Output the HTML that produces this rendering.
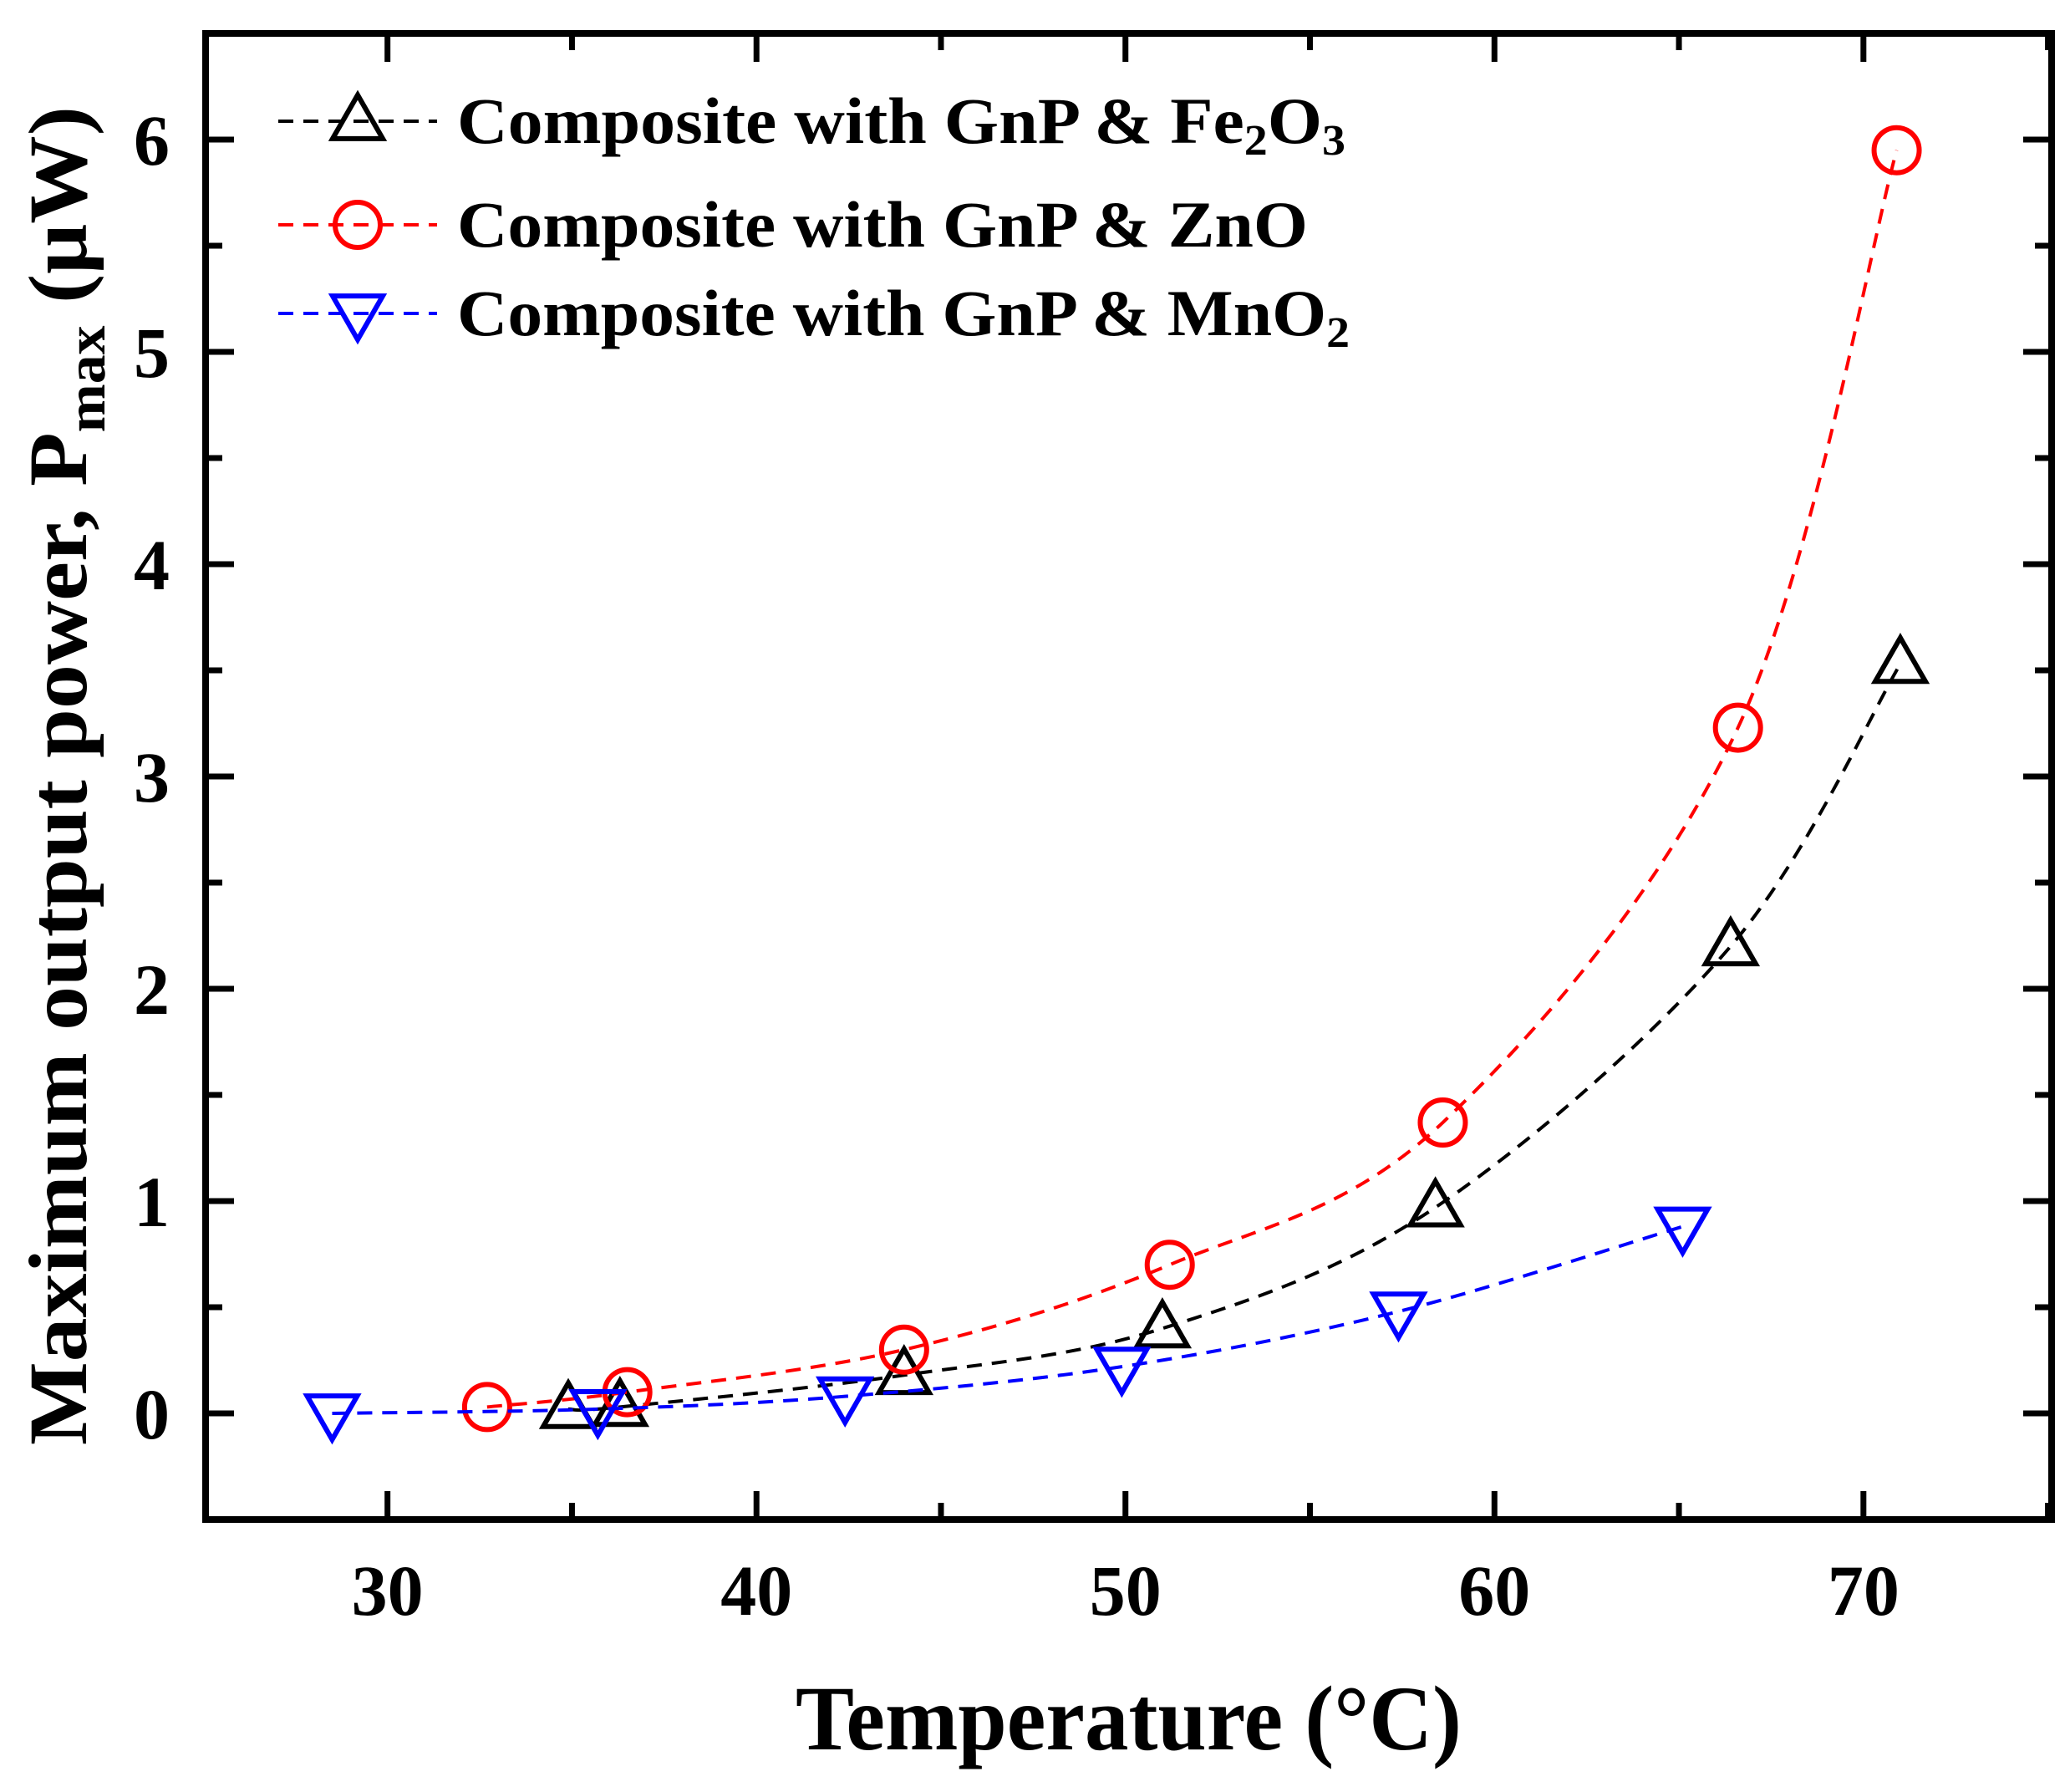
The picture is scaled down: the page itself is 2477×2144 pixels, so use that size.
<!DOCTYPE html>
<html><head><meta charset="utf-8"><style>body{margin:0;background:#fff}svg{display:block}</style></head>
<body>
<svg id="chart" xmlns="http://www.w3.org/2000/svg" width="2477" height="2144" viewBox="0 0 2477 2144" font-family="'Liberation Serif', serif" font-weight="bold">
<rect width="2477" height="2144" fill="#fff"/>
<g id="marks"></g>
<g id="axes"></g>
<text x="952" y="2093" font-size="110" textLength="797" lengthAdjust="spacingAndGlyphs">Temperature (°C)</text>
<text transform="translate(103,1729) rotate(-90)" font-size="100" textLength="1602" lengthAdjust="spacingAndGlyphs">Maximum output power, P<tspan font-size="66" dy="22">max</tspan><tspan dy="-22"> (μW)</tspan></text>
<g>
<text x="547" y="171" font-size="78" textLength="1063" lengthAdjust="spacingAndGlyphs">Composite with GnP &amp; Fe<tspan font-size="52" dy="14">2</tspan><tspan dy="-14">O</tspan><tspan font-size="52" dy="14">3</tspan></text>
<text x="547" y="295" font-size="78" textLength="1018" lengthAdjust="spacingAndGlyphs">Composite with GnP &amp; ZnO</text>
<text x="547" y="401" font-size="78" textLength="1068" lengthAdjust="spacingAndGlyphs">Composite with GnP &amp; MnO<tspan font-size="52" dy="14">2</tspan></text>
</g>
</svg>
<script>
const fe2o3X = [34.9, 36.3, 44.0, 51.0, 58.4, 66.4, 71.0];
const fe2o3Y = [0.02, 0.03, 0.18, 0.40, 0.97, 2.20, 3.53];
const znoX = [32.7, 36.5, 44.0, 51.2, 58.6, 66.6, 70.9];
const znoY = [0.03, 0.10, 0.30, 0.70, 1.37, 3.23, 5.95];
const mno2X = [28.5, 35.7, 42.4, 49.9, 57.4, 65.1];
const mno2Y = [0.00, 0.02, 0.08, 0.22, 0.48, 0.88];
const xTicks = [30, 40, 50, 60, 70];
const yTicks = [0, 1, 2, 3, 4, 5, 6];

const NS = 'http://www.w3.org/2000/svg';
const L = 246, R = 2455, T = 40, B = 1818;
const xMin = 25.07, xMax = 75.1, yMin = -0.5, yMax = 6.5;
const xs = v => L + (v - xMin) / (xMax - xMin) * (R - L);
const ys = v => B - (v - yMin) / (yMax - yMin) * (B - T);
function mk(tag, attrs, parent) { const e = document.createElementNS(NS, tag); for (const k in attrs) e.setAttribute(k, attrs[k]); parent.appendChild(e); return e; }
const marks = document.getElementById('marks');
const axes = document.getElementById('axes');

function tri(cx, cy, s, up) {
  const h = s * 0.87;
  return up ? `${cx},${cy - h * 0.6} ${cx - s / 2},${cy + h * 0.4} ${cx + s / 2},${cy + h * 0.4}`
            : `${cx},${cy + h * 0.6} ${cx - s / 2},${cy - h * 0.4} ${cx + s / 2},${cy - h * 0.4}`;
}
function drawMarker(kind, cx, cy, color, name) {
  let e;
  if (kind === 'circle') e = mk('circle', {cx, cy, r: 27, fill: 'none', stroke: color, 'stroke-width': 6}, marks);
  else e = mk('polygon', {points: tri(cx, cy, 60, kind === 'up'), fill: 'none', stroke: color, 'stroke-width': 6}, marks);
  
  
}
function series(xv, yv, color, kind, name) {
  const pts = xv.map((x, i) => [xs(x), ys(yv[i])]);
  let d = `M${pts[0][0]},${pts[0][1]}`;
  for (let i = 0; i < pts.length - 1; i++) {
    const p0 = pts[Math.max(0, i - 1)], p1 = pts[i], p2 = pts[i + 1], p3 = pts[Math.min(pts.length - 1, i + 2)];
    const c1 = [p1[0] + (p2[0] - p0[0]) / 6, p1[1] + (p2[1] - p0[1]) / 6];
    const c2 = [p2[0] - (p3[0] - p1[0]) / 6, p2[1] - (p3[1] - p1[1]) / 6];
    d += ` C${c1[0]},${c1[1]} ${c2[0]},${c2[1]} ${p2[0]},${p2[1]}`;
  }
  const line = mk('path', {d, fill: 'none', stroke: color, 'stroke-width': 4, 'stroke-dasharray': '18 12'}, marks);
  
  
  pts.forEach(p => drawMarker(kind, p[0], p[1], color, name + '-point'));
}
series(fe2o3X, fe2o3Y, '#000', 'up', 'fe2o3');
series(znoX, znoY, '#ff0000', 'circle', 'zno');
series(mno2X, mno2Y, '#0000ff', 'down', 'mno2');

[['#000', 'up', 171 - 26], ['#ff0000', 'circle', 295 - 26], ['#0000ff', 'down', 401 - 26]].forEach((r, i) => {
  const ln = mk('line', {x1: 333, x2: 523, y1: r[2], y2: r[2], stroke: r[0], 'stroke-width': 4, 'stroke-dasharray': '18 12'}, marks);
  
  
  drawMarker(r[1], 428, r[2], r[0], 'legend-marker');
});

const frame = mk('rect', {x: L, y: T, width: R - L, height: B - T, fill: 'none', stroke: '#000', 'stroke-width': 8}, axes);


for (let v = 30; v <= 75; v += 5) {
  const len = v % 10 === 0 ? 34 : 20, x = xs(v);
  mk('line', {x1: x, x2: x, y1: B, y2: B - len, stroke: '#000', 'stroke-width': 7}, axes);
  mk('line', {x1: x, x2: x, y1: T, y2: T + len, stroke: '#000', 'stroke-width': 7}, axes);
}
xTicks.forEach(v => {
  const t = mk('text', {x: xs(v), y: 1932, 'font-size': 86, 'text-anchor': 'middle'}, axes);
  t.textContent = v;
  
  
});
for (let v = -0.5; v <= 6.5; v += 0.5) {
  const len = Math.abs(v % 1) < 1e-9 ? 34 : 20, y = ys(v);
  mk('line', {x1: L, x2: L + len, y1: y, y2: y, stroke: '#000', 'stroke-width': 7}, axes);
  mk('line', {x1: R, x2: R - len, y1: y, y2: y, stroke: '#000', 'stroke-width': 7}, axes);
}
yTicks.forEach(v => {
  const t = mk('text', {x: 203, y: ys(v) + 30, 'font-size': 86, 'text-anchor': 'end'}, axes);
  t.textContent = v;
  
  
});
</script>
</body></html>
